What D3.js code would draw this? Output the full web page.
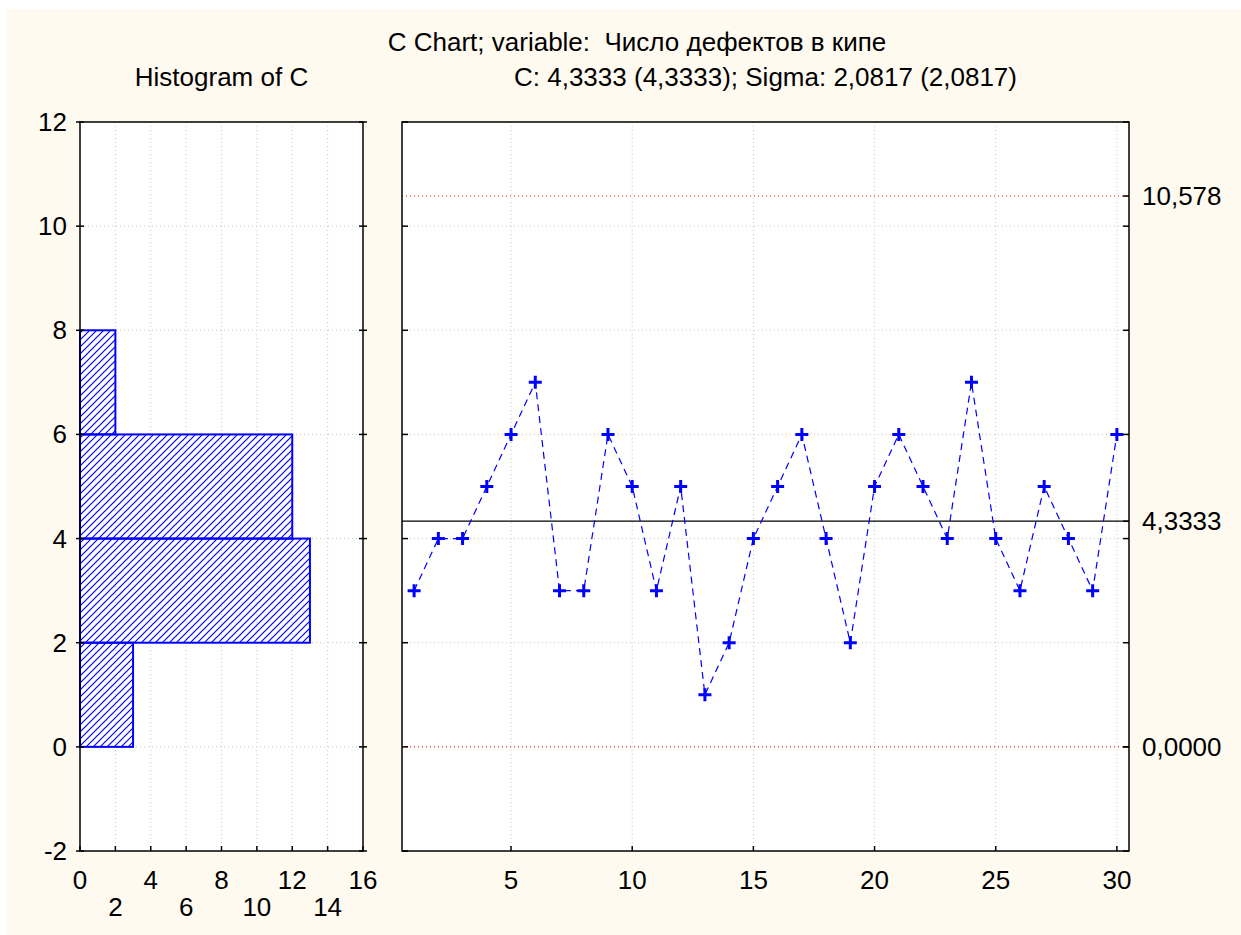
<!DOCTYPE html>
<html>
<head>
<meta charset="utf-8">
<script src="https://cdn.jsdelivr.net/npm/d3@7"></script>
<style>
  body { margin: 0; background: #ffffff; }
  text { font-family: "Liberation Sans", Arial, sans-serif; fill: #000; white-space: pre; }
</style>
</head>
<body>
<div id="chart"></div>
<script>
// samples 1..30 (defects per bale)
const samples = d3.range(1, 31);
const defects = [3, 4, 4, 5, 6, 7, 3, 3, 6, 5, 3, 5, 1, 2, 4, 5, 6, 4, 2, 5, 6, 5, 4, 7, 4, 3, 5, 4, 3, 6];

// histogram bins (value ranges) and counts
const binLow = [0, 2, 4, 6];
const binHigh = [2, 4, 6, 8];
const binCount = [3, 13, 12, 2];

// control limits
const limitValues = [10.578, 4.3333, 0];
const limitLabels = ['10,578', '4,3333', '0,0000'];

const yTicks = [-2, 0, 2, 4, 6, 8, 10, 12];
const histTicks = [0, 2, 4, 6, 8, 10, 12, 14, 16];
const xTicks = [5, 10, 15, 20, 25, 30];

const titleText = 'C Chart; variable:  Число дефектов в кипе';
const histTitle = 'Histogram of C';
const chartTitle = 'C: 4,3333 (4,3333); Sigma: 2,0817 (2,0817)';

const width = 1241, height = 935;
const plotTop = 122, plotBottom = 851;
const hist = { left: 80, right: 363 };
const ctrl = { left: 402, right: 1129 };
const fontSize = '26px';

const svg = d3.select('#chart').append('svg')
    .attr('width', width)
    .attr('height', height);

svg.append('rect')
    .attr('x', 6).attr('y', 9)
    .attr('width', width - 6).attr('height', height - 9)
    .attr('fill', '#fffaf0');

const defs = svg.append('defs');
defs.append('pattern')
    .attr('id', 'hatch')
    .attr('patternUnits', 'userSpaceOnUse')
    .attr('width', 7).attr('height', 7)
  .append('path')
    .attr('d', 'M-1,1 l2,-2 M0,7 l7,-7 M6,8 l2,-2')
    .attr('stroke', '#0000ff')
    .attr('stroke-width', 1.2);

const y = d3.scaleLinear().domain([-2, 12]).range([plotBottom, plotTop]);
const xh = d3.scaleLinear().domain([0, 16]).range([hist.left, hist.right]);
const xc = d3.scaleLinear().domain([0.5, 30.5]).range([ctrl.left, ctrl.right]);

// titles
svg.append('text')
    .attr('x', 637).attr('y', 51)
    .attr('text-anchor', 'middle')
    .attr('font-size', fontSize)
    .text(titleText);
svg.append('text')
    .attr('x', (hist.left + hist.right) / 2).attr('y', 86)
    .attr('text-anchor', 'middle')
    .attr('font-size', fontSize)
    .text(histTitle);
svg.append('text')
    .attr('x', (ctrl.left + ctrl.right) / 2).attr('y', 86)
    .attr('text-anchor', 'middle')
    .attr('font-size', fontSize)
    .text(chartTitle);

function panel(x, left, right, vGrid) {
    const g = svg.append('g');
    g.append('rect')
        .attr('x', left).attr('y', plotTop)
        .attr('width', right - left).attr('height', plotBottom - plotTop)
        .attr('fill', '#ffffff');
    g.selectAll('.hgrid')
        .data(yTicks.filter(d => d > -2 && d < 12))
      .enter().append('line')
        .attr('x1', left).attr('x2', right)
        .attr('y1', d => y(d)).attr('y2', d => y(d))
        .attr('stroke', '#c8c8c8')
        .attr('stroke-dasharray', '1,3');
    g.selectAll('.vgrid')
        .data(vGrid)
      .enter().append('line')
        .attr('x1', d => x(d)).attr('x2', d => x(d))
        .attr('y1', plotTop).attr('y2', plotBottom)
        .attr('stroke', '#c8c8c8')
        .attr('stroke-dasharray', '1,3');
    return g;
}

function frame(left, right) {
    svg.append('rect')
        .attr('x', left).attr('y', plotTop)
        .attr('width', right - left).attr('height', plotBottom - plotTop)
        .attr('fill', 'none')
        .attr('stroke', '#000')
        .attr('stroke-width', 1.5);
}

// ---- histogram panel ----
const hp = panel(xh, hist.left, hist.right, histTicks.filter(d => d > 0 && d < 16));

hp.selectAll('.bar')
    .data(binCount)
  .enter().append('rect')
    .attr('x', xh(0))
    .attr('y', (d, i) => y(binHigh[i]))
    .attr('width', d => xh(d) - xh(0))
    .attr('height', (d, i) => y(binLow[i]) - y(binHigh[i]))
    .attr('fill', 'url(#hatch)')
    .attr('stroke', '#0000ff')
    .attr('stroke-width', 2);

frame(hist.left, hist.right);

// left axis ticks (crossing) + labels
svg.selectAll('.ltick')
    .data(yTicks)
  .enter().append('line')
    .attr('x1', hist.left - 4).attr('x2', hist.left + 4)
    .attr('y1', d => y(d)).attr('y2', d => y(d))
    .attr('stroke', '#000').attr('stroke-width', 1.5);
svg.selectAll('.rtick')
    .data(yTicks)
  .enter().append('line')
    .attr('x1', hist.right - 4).attr('x2', hist.right + 4)
    .attr('y1', d => y(d)).attr('y2', d => y(d))
    .attr('stroke', '#000').attr('stroke-width', 1.5);
svg.selectAll('.ylab')
    .data(yTicks)
  .enter().append('text')
    .attr('x', 67)
    .attr('y', d => y(d) + 9)
    .attr('text-anchor', 'end')
    .attr('font-size', fontSize)
    .text(d => d);

svg.selectAll('.htick')
    .data(histTicks)
  .enter().append('line')
    .attr('x1', d => xh(d)).attr('x2', d => xh(d))
    .attr('y1', plotBottom).attr('y2', plotBottom - 5)
    .attr('stroke', '#000').attr('stroke-width', 1.5);
svg.selectAll('.hlab')
    .data(histTicks)
  .enter().append('text')
    .attr('x', d => xh(d))
    .attr('y', (d, i) => i % 2 === 0 ? 889 : 916)
    .attr('text-anchor', 'middle')
    .attr('font-size', fontSize)
    .text(d => d);

// ---- control chart panel ----
const cp = panel(xc, ctrl.left, ctrl.right, xTicks);

cp.selectAll('.limit')
    .data(limitValues)
  .enter().append('line')
    .attr('x1', ctrl.left).attr('x2', ctrl.right)
    .attr('y1', d => y(d)).attr('y2', d => y(d))
    .attr('stroke', (d, i) => i === 1 ? '#000' : '#ff0000')
    .attr('stroke-width', (d, i) => i === 1 ? 1.2 : 1)
    .attr('stroke-dasharray', (d, i) => i === 1 ? null : '1,3');

const line = d3.line()
    .x((d, i) => xc(samples[i]))
    .y(d => y(d));

cp.append('path')
    .datum(defects)
    .attr('d', line)
    .attr('fill', 'none')
    .attr('stroke', '#0000ff')
    .attr('stroke-width', 1.2)
    .attr('stroke-dasharray', '7,5');

cp.selectAll('.mark')
    .data(defects)
  .enter().append('path')
    .attr('transform', (d, i) => 'translate(' + xc(samples[i]) + ',' + y(d) + ')')
    .attr('d', 'M-6.5,0H6.5M0,-6.5V6.5')
    .attr('stroke', '#0000ff')
    .attr('stroke-width', 3);

frame(ctrl.left, ctrl.right);

svg.selectAll('.cltick')
    .data(yTicks)
  .enter().append('line')
    .attr('x1', ctrl.left).attr('x2', ctrl.left + 6)
    .attr('y1', d => y(d)).attr('y2', d => y(d))
    .attr('stroke', '#000').attr('stroke-width', 1.5);
svg.selectAll('.crtick')
    .data(yTicks)
  .enter().append('line')
    .attr('x1', ctrl.right - 6).attr('x2', ctrl.right)
    .attr('y1', d => y(d)).attr('y2', d => y(d))
    .attr('stroke', '#000').attr('stroke-width', 1.5);
svg.selectAll('.limtick')
    .data(limitValues)
  .enter().append('line')
    .attr('x1', ctrl.right - 6).attr('x2', ctrl.right)
    .attr('y1', d => y(d)).attr('y2', d => y(d))
    .attr('stroke', '#000').attr('stroke-width', 1.5);
svg.selectAll('.limlab')
    .data(limitValues)
  .enter().append('text')
    .attr('x', 1142)
    .attr('y', d => y(d) + 9)
    .attr('font-size', fontSize)
    .text((d, i) => limitLabels[i]);

svg.selectAll('.xtick')
    .data(xTicks)
  .enter().append('line')
    .attr('x1', d => xc(d)).attr('x2', d => xc(d))
    .attr('y1', plotBottom).attr('y2', plotBottom - 5)
    .attr('stroke', '#000').attr('stroke-width', 1.5);
svg.selectAll('.xlab')
    .data(xTicks)
  .enter().append('text')
    .attr('x', d => xc(d))
    .attr('y', 889)
    .attr('text-anchor', 'middle')
    .attr('font-size', fontSize)
    .text(d => d);
</script>
</body>
</html>
